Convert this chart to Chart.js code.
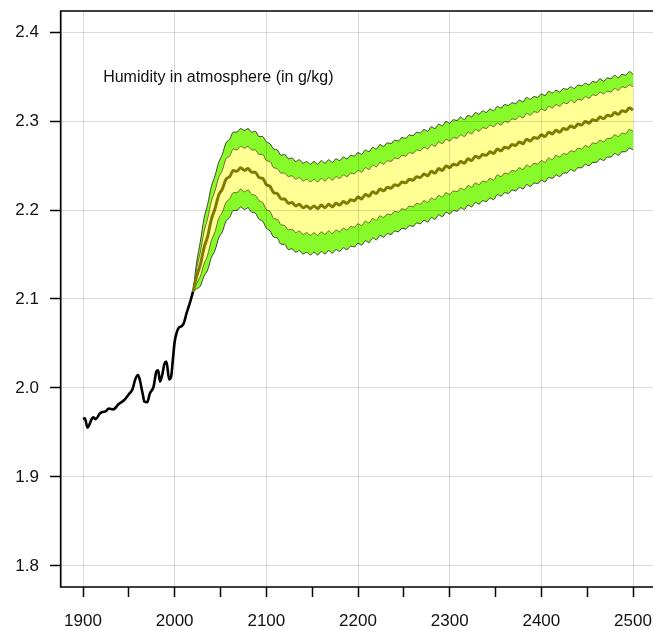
<!DOCTYPE html>
<html>
<head>
<meta charset="utf-8">
<script src="https://cdn.jsdelivr.net/npm/chart.js@4.4.1/dist/chart.umd.min.js"></script>
<style>
  html, body { margin: 0; padding: 0; background: #fff; overflow: hidden; }
  #wrap { width: 653px; height: 630px; }
</style>
</head>
<body>
<div id="wrap"><canvas id="chart"></canvas></div>
<script>
// observed record
const histYears = [1900, 1902, 1905, 1909, 1911, 1914, 1918, 1921, 1925, 1928,
  1933, 1939, 1945, 1950, 1954, 1957, 1960, 1962, 1965, 1967,
  1970, 1973, 1977, 1980, 1982, 1984, 1986, 1989, 1991, 1994,
  1996, 1998, 2000, 2002, 2004, 2008, 2010, 2013, 2017, 2020];
const histValues = [1.965, 1.966, 1.9555, 1.964, 1.967, 1.965, 1.971, 1.973, 1.974, 1.977,
  1.976, 1.982, 1.9865, 1.993, 1.9985, 2.0097, 2.0146, 2.009, 1.994, 1.9846,
  1.984, 1.994, 2.0015, 2.0184, 2.020, 2.0071, 2.0127, 2.0277, 2.0296, 2.0097,
  2.012, 2.0315, 2.052, 2.0614, 2.067, 2.0697, 2.073, 2.084, 2.097, 2.108];

// projection, one value every 4 years from 2020 to 2500
const projYears = Array.from({ length: 121 }, (_, i) => 2020 + 4 * i);

const outerUpper = [2.108, 2.1415, 2.1645, 2.1905, 2.2065, 2.2265, 2.2385, 2.2535, 2.2625, 2.2755,
  2.2795, 2.2875, 2.2875, 2.2915, 2.2895, 2.2915, 2.2875, 2.2885, 2.2825, 2.2825,
  2.2765, 2.2745, 2.2685, 2.2675, 2.2615, 2.2625, 2.2575, 2.2585, 2.2545, 2.2565,
  2.2525, 2.2545, 2.2515, 2.2545, 2.2515, 2.2555, 2.2525, 2.2565, 2.2535, 2.2575,
  2.2555, 2.2595, 2.2575, 2.2615, 2.2605, 2.2645, 2.2625, 2.2675, 2.2655, 2.2705,
  2.2685, 2.2735, 2.2715, 2.2755, 2.2745, 2.2785, 2.2775, 2.2815, 2.2805, 2.2845,
  2.2835, 2.2875, 2.2865, 2.2905, 2.2885, 2.2935, 2.2915, 2.2965, 2.2945, 2.2995,
  2.2975, 2.3015, 2.3005, 2.3045, 2.3015, 2.3065, 2.3045, 2.3095, 2.3075, 2.3115,
  2.3095, 2.3135, 2.3115, 2.3165, 2.3145, 2.3185, 2.3175, 2.3205, 2.3195, 2.3235,
  2.3215, 2.3265, 2.3245, 2.3275, 2.3265, 2.3305, 2.3285, 2.3335, 2.3315, 2.3345,
  2.3325, 2.3365, 2.3355, 2.3385, 2.3365, 2.3405, 2.3395, 2.3425, 2.3405, 2.3445,
  2.3435, 2.3475, 2.3445, 2.3485, 2.3475, 2.3515, 2.3485, 2.3525, 2.3515, 2.3555,
  2.3525];

const innerUpper = [2.108, 2.1345, 2.1525, 2.1755, 2.1905, 2.2095, 2.2215, 2.2365, 2.2445, 2.2575,
  2.2605, 2.2685, 2.2675, 2.2715, 2.2695, 2.2715, 2.2675, 2.2675, 2.2625, 2.2625,
  2.2555, 2.2545, 2.2475, 2.2465, 2.2415, 2.2415, 2.2375, 2.2385, 2.2345, 2.2365,
  2.2325, 2.2345, 2.2315, 2.2345, 2.2315, 2.2355, 2.2325, 2.2365, 2.2335, 2.2375,
  2.2355, 2.2395, 2.2375, 2.2415, 2.2405, 2.2445, 2.2425, 2.2475, 2.2455, 2.2505,
  2.2485, 2.2535, 2.2515, 2.2555, 2.2545, 2.2585, 2.2575, 2.2615, 2.2605, 2.2645,
  2.2635, 2.2675, 2.2665, 2.2705, 2.2685, 2.2735, 2.2715, 2.2765, 2.2745, 2.2795,
  2.2775, 2.2815, 2.2805, 2.2845, 2.2825, 2.2875, 2.2855, 2.2905, 2.2885, 2.2925,
  2.2915, 2.2955, 2.2935, 2.2975, 2.2955, 2.2995, 2.2985, 2.3025, 2.3015, 2.3055,
  2.3035, 2.3085, 2.3065, 2.3105, 2.3095, 2.3135, 2.3115, 2.3165, 2.3145, 2.3185,
  2.3165, 2.3205, 2.3195, 2.3235, 2.3205, 2.3245, 2.3235, 2.3275, 2.3255, 2.3295,
  2.3285, 2.3325, 2.3305, 2.3335, 2.3325, 2.3365, 2.3345, 2.3385, 2.3375, 2.3405,
  2.3385];

const median = [2.108, 2.1255, 2.1385, 2.1575, 2.1705, 2.1895, 2.2015, 2.2165, 2.2235, 2.2345,
  2.2375, 2.2445, 2.2435, 2.2475, 2.2445, 2.2465, 2.2425, 2.2425, 2.2365, 2.2355,
  2.2285, 2.2265, 2.2195, 2.2185, 2.2125, 2.2125, 2.2075, 2.2085, 2.2045, 2.2065,
  2.2025, 2.2045, 2.2015, 2.2045, 2.2015, 2.2055, 2.2025, 2.2065, 2.2035, 2.2075,
  2.2055, 2.2095, 2.2075, 2.2115, 2.2105, 2.2145, 2.2125, 2.2175, 2.2155, 2.2205,
  2.2185, 2.2235, 2.2215, 2.2255, 2.2245, 2.2285, 2.2275, 2.2315, 2.2305, 2.2345,
  2.2335, 2.2375, 2.2365, 2.2405, 2.2385, 2.2435, 2.2415, 2.2465, 2.2445, 2.2495,
  2.2475, 2.2515, 2.2505, 2.2545, 2.2525, 2.2575, 2.2555, 2.2605, 2.2585, 2.2625,
  2.2615, 2.2655, 2.2635, 2.2685, 2.2665, 2.2705, 2.2695, 2.2735, 2.2725, 2.2765,
  2.2745, 2.2795, 2.2775, 2.2815, 2.2805, 2.2845, 2.2825, 2.2875, 2.2855, 2.2895,
  2.2875, 2.2915, 2.2905, 2.2945, 2.2925, 2.2965, 2.2955, 2.2995, 2.2975, 2.3015,
  2.3005, 2.3045, 2.3025, 2.3065, 2.3055, 2.3095, 2.3075, 2.3115, 2.3105, 2.3145,
  2.3125];

const innerLower = [2.108, 2.1175, 2.1255, 2.1395, 2.1495, 2.1655, 2.1755, 2.1905, 2.1975, 2.2085,
  2.2125, 2.2195, 2.2195, 2.2235, 2.2205, 2.2225, 2.2175, 2.2165, 2.2105, 2.2085,
  2.2005, 2.1985, 2.1905, 2.1895, 2.1835, 2.1825, 2.1775, 2.1785, 2.1745, 2.1765,
  2.1725, 2.1745, 2.1715, 2.1745, 2.1715, 2.1755, 2.1725, 2.1765, 2.1735, 2.1775,
  2.1755, 2.1795, 2.1775, 2.1815, 2.1805, 2.1845, 2.1825, 2.1875, 2.1855, 2.1905,
  2.1885, 2.1935, 2.1915, 2.1955, 2.1945, 2.1985, 2.1975, 2.2015, 2.2005, 2.2045,
  2.2035, 2.2075, 2.2065, 2.2105, 2.2085, 2.2135, 2.2115, 2.2165, 2.2145, 2.2195,
  2.2175, 2.2215, 2.2205, 2.2245, 2.2225, 2.2275, 2.2255, 2.2305, 2.2285, 2.2325,
  2.2315, 2.2355, 2.2335, 2.2395, 2.2375, 2.2415, 2.2405, 2.2445, 2.2435, 2.2475,
  2.2455, 2.2505, 2.2485, 2.2525, 2.2515, 2.2555, 2.2535, 2.2585, 2.2565, 2.2615,
  2.2595, 2.2635, 2.2625, 2.2665, 2.2655, 2.2695, 2.2685, 2.2725, 2.2705, 2.2755,
  2.2745, 2.2785, 2.2765, 2.2805, 2.2805, 2.2845, 2.2825, 2.2865, 2.2855, 2.2905,
  2.2885];

const outerLower = [2.108, 2.1115, 2.1145, 2.1255, 2.1325, 2.1465, 2.1545, 2.1685, 2.1755, 2.1875,
  2.1915, 2.1995, 2.1995, 2.2035, 2.2005, 2.2025, 2.1975, 2.1965, 2.1895, 2.1875,
  2.1795, 2.1765, 2.1695, 2.1685, 2.1615, 2.1615, 2.1555, 2.1565, 2.1525, 2.1545,
  2.1505, 2.1525, 2.1495, 2.1525, 2.1495, 2.1535, 2.1505, 2.1545, 2.1515, 2.1555,
  2.1535, 2.1575, 2.1555, 2.1595, 2.1585, 2.1625, 2.1605, 2.1655, 2.1635, 2.1685,
  2.1665, 2.1715, 2.1695, 2.1735, 2.1725, 2.1765, 2.1755, 2.1795, 2.1785, 2.1825,
  2.1815, 2.1855, 2.1845, 2.1885, 2.1865, 2.1915, 2.1895, 2.1945, 2.1925, 2.1975,
  2.1955, 2.1995, 2.1985, 2.2025, 2.2005, 2.2055, 2.2035, 2.2085, 2.2065, 2.2105,
  2.2095, 2.2135, 2.2115, 2.2175, 2.2155, 2.2195, 2.2185, 2.2225, 2.2215, 2.2255,
  2.2235, 2.2285, 2.2265, 2.2305, 2.2295, 2.2335, 2.2315, 2.2365, 2.2355, 2.2395,
  2.2375, 2.2415, 2.2415, 2.2455, 2.2435, 2.2475, 2.2475, 2.2515, 2.2495, 2.2535,
  2.2535, 2.2575, 2.2555, 2.2595, 2.2595, 2.2635, 2.2615, 2.2655, 2.2655, 2.2695,
  2.2675];

const xTickLabels = [1900, 2000, 2100, 2200, 2300, 2400, 2500];
const yTickLabels = [1.8, 1.9, 2.0, 2.1, 2.2, 2.3, 2.4];
const noteText = 'Humidity in atmosphere (in g/kg)';
const noteAt = [1922, 2.349];

const FONT = '"Liberation Sans", Arial, Helvetica, sans-serif';
const GRID = 'rgba(0,0,0,0.14)';

function pts(xs, ys) {
  return xs.map((x, i) => ({ x: x, y: ys[i] }));
}

// open frame (left, top, bottom) plus the caption inside the plot
const frameAndNote = {
  id: 'frameAndNote',
  afterDraw(chart) {
    const { ctx, chartArea, scales } = chart;
    const l = chartArea.left - 0.3, t = chartArea.top, b = chartArea.bottom;
    ctx.save();
    ctx.strokeStyle = '#000';
    ctx.lineWidth = 1.7;
    ctx.lineCap = 'square';
    ctx.beginPath();
    ctx.moveTo(chart.width + 2, t);
    ctx.lineTo(l, t);
    ctx.lineTo(l, b);
    ctx.lineTo(chart.width + 2, b);
    ctx.stroke();
    ctx.font = '16px ' + FONT;
    ctx.fillStyle = '#111';
    ctx.textAlign = 'left';
    ctx.textBaseline = 'middle';
    ctx.fillText(noteText, scales.x.getPixelForValue(noteAt[0]), scales.y.getPixelForValue(noteAt[1]));
    ctx.restore();
  }
};

const lineBase = { pointRadius: 0, cubicInterpolationMode: 'monotone' };

new Chart(document.getElementById('chart'), {
  type: 'line',
  data: {
    datasets: [
      Object.assign({}, lineBase, {
        label: 'outer upper', data: pts(projYears, outerUpper),
        borderColor: 'rgba(40,40,30,0.85)', borderWidth: 1,
        backgroundColor: '#88FA2A', fill: '+1', order: 6
      }),
      Object.assign({}, lineBase, {
        label: 'outer lower', data: pts(projYears, outerLower),
        borderColor: 'rgba(40,40,30,0.85)', borderWidth: 1,
        fill: false, order: 5
      }),
      Object.assign({}, lineBase, {
        label: 'inner upper', data: pts(projYears, innerUpper),
        borderColor: 'rgba(90,90,30,0.85)', borderWidth: 1,
        backgroundColor: '#FFFF94', fill: '+1', order: 4
      }),
      Object.assign({}, lineBase, {
        label: 'inner lower', data: pts(projYears, innerLower),
        borderColor: 'rgba(90,90,30,0.85)', borderWidth: 1,
        fill: false, order: 3
      }),
      Object.assign({}, lineBase, {
        label: 'median', data: pts(projYears, median),
        borderColor: '#7F7A00', borderWidth: 3,
        fill: false, order: 2
      }),
      Object.assign({}, lineBase, {
        label: 'observed', data: pts(histYears, histValues),
        borderColor: '#000', borderWidth: 2.6,
        fill: false, order: 1
      })
    ]
  },
  options: {
    responsive: true,
    maintainAspectRatio: false,
    animation: false,
    layout: { padding: { top: 11, right: 0, left: 0, bottom: 0 } },
    plugins: { legend: { display: false }, tooltip: { enabled: false } },
    scales: {
      x: {
        type: 'linear',
        min: 1876,
        max: 2521.8,
        afterFit(scale) { scale.height = 43; scale.paddingLeft = 0; scale.paddingRight = 0; },
        grid: {
          z: 1,
          color: ctx => (xTickLabels.includes(ctx.tick && ctx.tick.value) ? GRID : 'rgba(0,0,0,0)'),
          lineWidth: 1,
          tickColor: '#000',
          tickWidth: 1.5,
          tickLength: 10
        },
        border: { display: false },
        ticks: {
          stepSize: 50,
          includeBounds: false,
          autoSkip: false,
          maxRotation: 0,
          padding: 14,
          color: '#111',
          font: { family: FONT, size: 17 },
          callback: v => (xTickLabels.includes(v) ? String(v) : '')
        }
      },
      y: {
        type: 'linear',
        min: 1.7764,
        max: 2.4236,
        afterFit(scale) { scale.width = 61; scale.paddingTop = 0; scale.paddingBottom = 0; },
        grid: {
          z: 1,
          color: GRID,
          lineWidth: 1,
          tickColor: '#000',
          tickWidth: 1.5,
          tickLength: 11
        },
        border: { display: false },
        ticks: {
          stepSize: 0.1,
          includeBounds: false,
          padding: 11,
          color: '#111',
          font: { family: FONT, size: 17 },
          callback: v => {
            const hit = yTickLabels.find(t => Math.abs(t - v) < 1e-6);
            return hit === undefined ? '' : hit.toFixed(1);
          }
        }
      }
    }
  },
  plugins: [frameAndNote]
});
</script>
</body>
</html>
